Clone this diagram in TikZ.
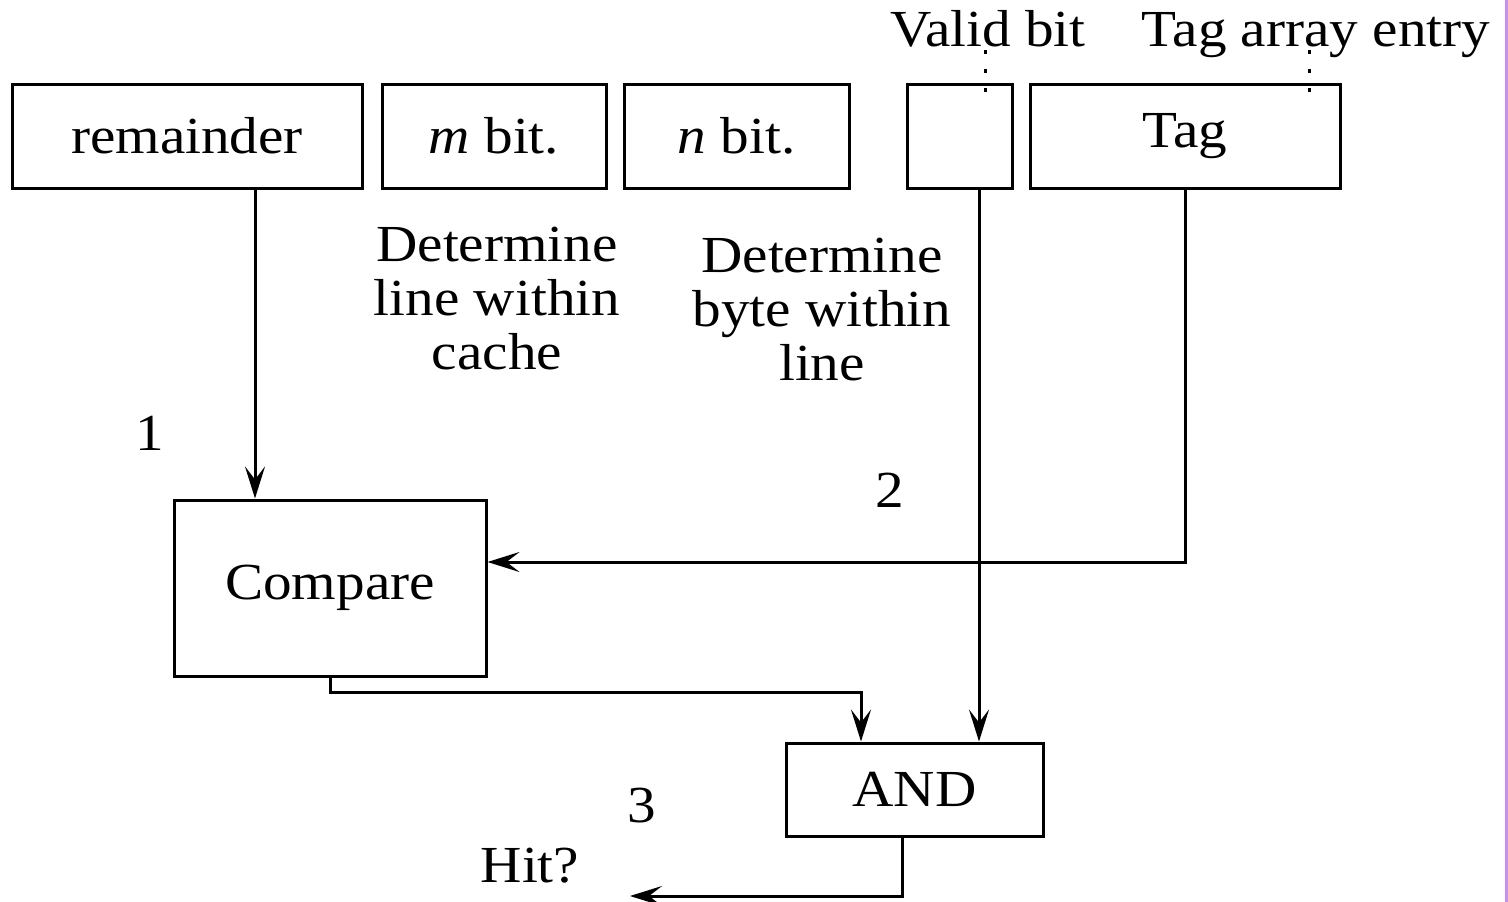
\documentclass[tikz,border=0pt]{standalone}
\usepackage{fontspec}
\setmainfont{Liberation Serif}[FakeStretch=1.1]
\usetikzlibrary{arrows.meta}
\definecolor{edgeviolet}{RGB}{200,145,240}
\tikzset{
  field/.style={draw, line width=3pt, inner sep=0pt, minimum height=104pt},
  unit/.style={draw, line width=3pt, inner sep=0pt},
  lbl/.style={inner sep=0pt, anchor=base},
  note/.style={inner sep=0pt, align=center, font=\fontsize{52}{54}\selectfont},
  wire/.style={line width=3pt, -{Stealth[length=32pt,width=20pt,inset=13pt]}},
  pointer/.style={line width=3pt, dash pattern=on 4pt off 15pt},
}
\begin{document}
\begin{tikzpicture}[x=1pt, y=-1pt, font=\fontsize{52}{54}\selectfont]
\useasboundingbox (0,0) rectangle (1508,902);
\fill[white] (0,0) rectangle (1508,902);
\fill[edgeviolet] (1505,0) rectangle (1508,902);

% address fields
\node[field, minimum width=350pt] (rem)   at (187,136)   {remainder};
\node[field, minimum width=224pt] (mbit)  at (494,136)   {\textit{m} bit.};
\node[field, minimum width=225pt] (nbit)  at (736.5,136) {\textit{n} bit.};
\node[field, minimum width=105pt] (valid) at (959.5,136) {};
\node[field, minimum width=310pt] (tag)   at (1185,136)  {Tag};

% headings above the tag array entry
\node[lbl] (vlab) at (988,46)  {Valid bit};
\node[lbl] (tlab) at (1316,46) {Tag array entry};
\coordinate (vd1) at (985,50);  \coordinate (vd2) at (985,94);
\coordinate (td1) at (1309,50); \coordinate (td2) at (1309,94);
\draw[pointer] (vd1) -- (vd2);
\draw[pointer] (td1) -- (td2);

% explanations
\node[note] (linenote) at (497,299) {Determine\\line within\\cache};
\node[note] (bytenote) at (822,310) {Determine\\byte within\\line};

% logic blocks
\node[unit, minimum width=312pt, minimum height=176pt] (cmp) at (330,588)   {Compare};
\node[unit, minimum width=257pt, minimum height=93pt]  (and) at (914.5,789.5) {AND};

% step numbers and output
\node[lbl] (s1)  at (150,450) {1};
\node[lbl] (s2)  at (890,507) {2};
\node[lbl] (s3)  at (642,822) {3};
\node[lbl] (hit) at (530,882) {Hit?};

% wiring
\coordinate (rx) at (255,0);
\coordinate (vx) at (979,0);
\coordinate (cx) at (861,0);
\coordinate (ox) at (902,0);
\coordinate (ty) at (0,562);
\coordinate (jy) at (0,692);
\coordinate (hitend) at (630,896);

\draw[wire] (rem.south -| rx) -- (cmp.north -| rx);
\draw[wire] (tag.south) |- (cmp.east |- ty);
\draw[wire] (valid.south -| vx) -- (and.north -| vx);
\draw[wire] (cmp.south) -- (cmp.south |- jy) -| (and.north -| cx);
\draw[wire] (and.south -| ox) |- (hitend);
\end{tikzpicture}
\end{document}
